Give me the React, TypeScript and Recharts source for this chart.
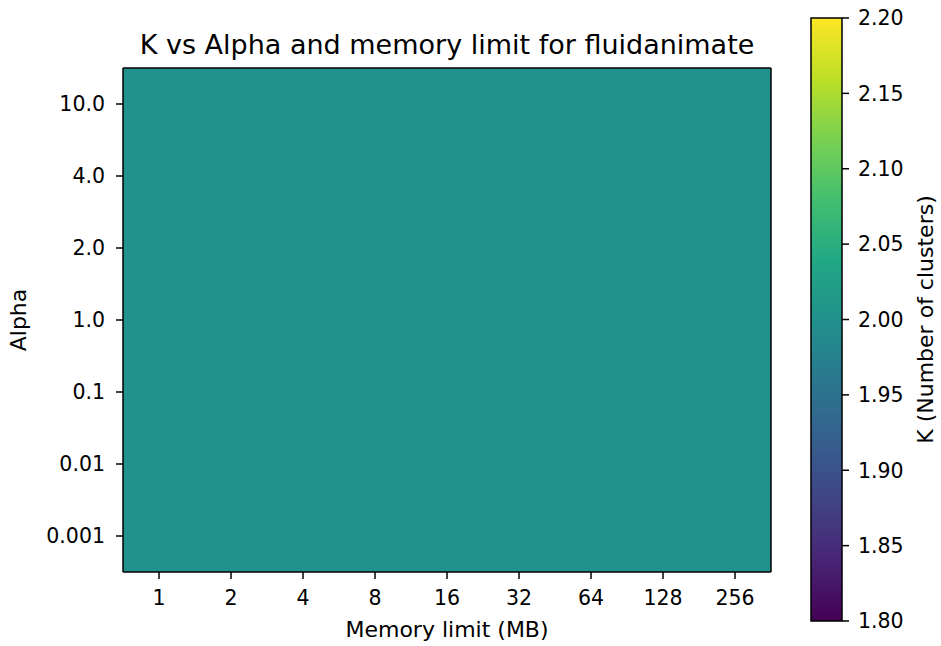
import { BarChart, Bar, XAxis, YAxis, Cell, Label } from 'recharts';

const memoryLimits = ['1', '2', '4', '8', '16', '32', '64', '128', '256'];
// bottom -> top, as drawn
const alphaLabels = ['0.001', '0.01', '0.1', '1.0', '2.0', '4.0', '10.0'];

// K (number of clusters) per alpha row, one value per memory limit
const kAlpha0001 = [2, 2, 2, 2, 2, 2, 2, 2, 2];
const kAlpha001 = [2, 2, 2, 2, 2, 2, 2, 2, 2];
const kAlpha01 = [2, 2, 2, 2, 2, 2, 2, 2, 2];
const kAlpha1 = [2, 2, 2, 2, 2, 2, 2, 2, 2];
const kAlpha2 = [2, 2, 2, 2, 2, 2, 2, 2, 2];
const kAlpha4 = [2, 2, 2, 2, 2, 2, 2, 2, 2];
const kAlpha10 = [2, 2, 2, 2, 2, 2, 2, 2, 2];
const kGrid = [kAlpha0001, kAlpha001, kAlpha01, kAlpha1, kAlpha2, kAlpha4, kAlpha10];

const kMin = 1.8;
const kMax = 2.2;
const colorbarTicks = [1.8, 1.85, 1.9, 1.95, 2.0, 2.05, 2.1, 2.15, 2.2];

const FONT = "'DejaVu Sans', sans-serif";

// viridis, sampled every 0.1
const viridis = [
  '#440154', '#482475', '#414487', '#355f8d', '#2a788e', '#21918c',
  '#22a884', '#44bf70', '#7ad151', '#bddf26', '#fde725',
];

function hexToRgb(h: string) {
  return [1, 3, 5].map((i) => parseInt(h.slice(i, i + 2), 16));
}

function viridisColor(v: number) {
  const t = Math.min(1, Math.max(0, (v - kMin) / (kMax - kMin)));
  const pos = t * (viridis.length - 1);
  const i = Math.min(viridis.length - 2, Math.floor(pos));
  const f = pos - i;
  const a = hexToRgb(viridis[i]);
  const b = hexToRgb(viridis[i + 1]);
  const c = a.map((x, k) => Math.round(x + (b[k] - x) * f));
  return `rgb(${c[0]},${c[1]},${c[2]})`;
}

// one stacked slot per alpha row, colour carries K
const cellData = memoryLimits.map((m, j) => {
  const row: any = { mem: m };
  alphaLabels.forEach((_, i) => {
    row[`a${i}`] = 1;
    row[`k${i}`] = kGrid[i][j];
  });
  return row;
});

const colorbarData = [{ name: 'K', range: [kMin, kMax] }];

const axisLineStyle = { stroke: '#000', strokeWidth: 1.5 };
const tickStyle = { fill: '#000', fontSize: 20.5, fontFamily: FONT };
const chartMargin = { top: 68, right: 170, bottom: 4, left: 0 };
const frameMargin = { top: 67, right: 169, bottom: 4, left: 0 };

function XLabel(props: any) {
  const vb = props.viewBox;
  return (
    <text x={vb.x + vb.width / 2} y={vb.y + 65} textAnchor="middle" fontSize={22} fontFamily={FONT} fill="#000">
      Memory limit (MB)
    </text>
  );
}

function YLabel(props: any) {
  const vb = props.viewBox;
  const cx = vb.x + 26;
  const cy = vb.y + vb.height / 2;
  return (
    <text x={cx} y={cy} transform={`rotate(-90 ${cx} ${cy})`} textAnchor="middle" fontSize={22} fontFamily={FONT} fill="#000">
      Alpha
    </text>
  );
}

function ColorbarLabel(props: any) {
  const vb = props.viewBox;
  const cx = vb.x + 91;
  const cy = vb.y + vb.height / 2;
  return (
    <text x={cx} y={cy} transform={`rotate(-90 ${cx} ${cy})`} textAnchor="middle" fontSize={22} fontFamily={FONT} fill="#000">
      K (Number of clusters)
    </text>
  );
}

export default function App() {
  return (
    <div style={{ position: 'absolute', left: 0, top: 0, width: 941, height: 646, background: '#fff' }}>
      <div
        style={{
          position: 'absolute', left: 123, top: 31, width: 648, textAlign: 'center',
          fontFamily: FONT, fontSize: 27, lineHeight: '27px', color: '#000', whiteSpace: 'nowrap',
        }}
      >
        K vs Alpha and memory limit for fluidanimate
      </div>
      <div style={{ position: 'absolute', left: 0, top: 0 }}>
        <BarChart
          width={941}
          height={646}
          data={cellData}
          barCategoryGap={0}
          margin={chartMargin}
          style={{ fontFamily: FONT }}
        >
          {alphaLabels.map((_, i) => (
            <Bar key={i} dataKey={`a${i}`} stackId="cells" isAnimationActive={false}>
              {cellData.map((row, j) => (
                <Cell key={j} fill={viridisColor(row[`k${i}`])} />
              ))}
            </Bar>
          ))}
          <XAxis
            dataKey="mem"
            height={70}
            axisLine={false}
            tickLine={axisLineStyle}
            tickSize={7}
            tickMargin={11}
            tick={tickStyle}
            interval={0}
          >
            <Label content={XLabel} />
          </XAxis>
          <YAxis
            type="number"
            domain={[0, alphaLabels.length]}
            ticks={alphaLabels.map((_, i) => i + 0.5)}
            tickFormatter={(v: number) => alphaLabels[Math.floor(v)]}
            width={123}
            axisLine={false}
            tickLine={axisLineStyle}
            tickSize={7}
            tickMargin={11}
            tick={tickStyle}
            interval={0}
          >
            <Label content={YLabel} />
          </YAxis>
        </BarChart>
      </div>
      {/* frame (spines) drawn on top of the cells */}
      <div style={{ position: 'absolute', left: 0, top: 0, pointerEvents: 'none' }}>
        <BarChart width={941} height={646} data={cellData} margin={frameMargin}>
          <XAxis dataKey="mem" height={70} axisLine={axisLineStyle} tick={false} tickLine={false} />
          <XAxis xAxisId="top" dataKey="mem" orientation="top" height={1} axisLine={axisLineStyle} tick={false} tickLine={false} />
          <YAxis type="number" domain={[0, alphaLabels.length]} width={123} axisLine={axisLineStyle} tick={false} tickLine={false} />
          <YAxis yAxisId="right" orientation="right" type="number" domain={[0, alphaLabels.length]} width={1} axisLine={axisLineStyle} tick={false} tickLine={false} />
        </BarChart>
      </div>
      <div style={{ position: 'absolute', left: 0, top: 0 }}>
        <BarChart
          width={941}
          height={646}
          data={colorbarData}
          barCategoryGap={0}
          margin={{ top: 18, right: 0, bottom: 25, left: 811 }}
          style={{ fontFamily: FONT }}
        >
          <defs>
            <linearGradient id="viridisBar" x1="0" y1="1" x2="0" y2="0">
              {viridis.map((c, i) => (
                <stop key={i} offset={`${(i / (viridis.length - 1)) * 100}%`} stopColor={c} />
              ))}
            </linearGradient>
          </defs>
          <XAxis dataKey="name" hide />
          <YAxis
            orientation="right"
            type="number"
            domain={[kMin, kMax]}
            ticks={colorbarTicks}
            tickFormatter={(v: number) => v.toFixed(2)}
            width={99}
            axisLine={false}
            tickLine={axisLineStyle}
            tickSize={7}
            tickMargin={9}
            tick={tickStyle}
            interval={0}
          >
            <Label content={ColorbarLabel} />
          </YAxis>
          <Bar dataKey="range" fill="url(#viridisBar)" stroke="#000" strokeWidth={1.5} isAnimationActive={false} />
        </BarChart>
      </div>
    </div>
  );
}
